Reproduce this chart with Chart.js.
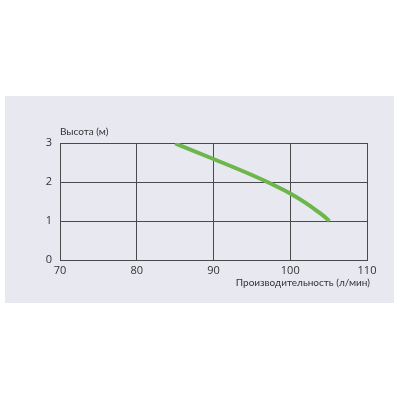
<!DOCTYPE html>
<html><head><meta charset="utf-8">
<script src="https://cdn.jsdelivr.net/npm/chart.js@4"></script>
<style>
html,body{margin:0;padding:0;background:#fff;}
#panel{position:absolute;left:5px;top:96px;width:389px;height:207px;background:#e8e8f0;}
#wrap{position:absolute;left:0;top:0;width:400px;height:400px;}
</style></head><body>
<div id="panel"></div>
<div id="wrap"><canvas id="c" width="400" height="400"></canvas></div>
<script>
const flowValues = [85, 90, 95, 97.5, 100, 102, 103.5, 104.5, 105.1];
const headValues = [2.99, 2.59, 2.18, 1.955, 1.705, 1.465, 1.255, 1.105, 1.0];
const xTicks = [70, 80, 90, 100, 110];
const yTicks = [0, 1, 2, 3];
const yTitle = 'Высота (м)';
const xTitle = 'Производительность (л/мин)';

const FONT = "'Open Sans', sans-serif";
const TFONT = "Lato, sans-serif";
const titles = {
  id: 'titles',
  afterDraw(chart) {
    const ctx = chart.ctx, a = chart.chartArea;
    ctx.save();
    ctx.fillStyle = '#333';
    ctx.font = '10px ' + TFONT;
    ctx.textBaseline = 'middle';
    ctx.textAlign = 'left';
    ctx.fillText(yTitle, a.left, a.top - 11);
    ctx.textAlign = 'right';
    ctx.fillText(xTitle, a.right + 3, a.bottom + 23);
    ctx.restore();
  }
};

new Chart(document.getElementById('c'), {
  type: 'line',
  data: {
    datasets: [{
      data: flowValues.map((x, i) => ({x, y: headValues[i]})),
      borderColor: '#6db64b',
      borderWidth: 4,
      pointRadius: 0,
      fill: false,
      cubicInterpolationMode: 'monotone',
      borderCapStyle: 'butt'
    }]
  },
  options: {
    responsive: false,
    animation: false,
    layout: {padding: {left: 0, right: 33, top: 143, bottom: 110}},
    plugins: {legend: {display: false}, tooltip: {enabled: false}},
    scales: {
      x: {
        type: 'linear', min: 70, max: 110,
        afterBuildTicks: s => { s.ticks = xTicks.map(v => ({value: v})); },
        afterFit: s => { s.height = 30; },
        grid: {color: '#4a4a4a', lineWidth: 1, drawTicks: false},
        border: {color: '#4a4a4a', width: 1},
        ticks: {padding: 4, color: '#333', font: {family: FONT, size: 11}}
      },
      y: {
        type: 'linear', min: 0, max: 3,
        afterBuildTicks: s => { s.ticks = yTicks.map(v => ({value: v})); },
        afterFit: s => { s.width = 60; },
        grid: {color: '#4a4a4a', lineWidth: 1, drawTicks: false},
        border: {color: '#4a4a4a', width: 1},
        ticks: {padding: 8, color: '#333', font: {family: FONT, size: 11}}
      }
    }
  },
  plugins: [titles]
});
</script>
</body></html>
